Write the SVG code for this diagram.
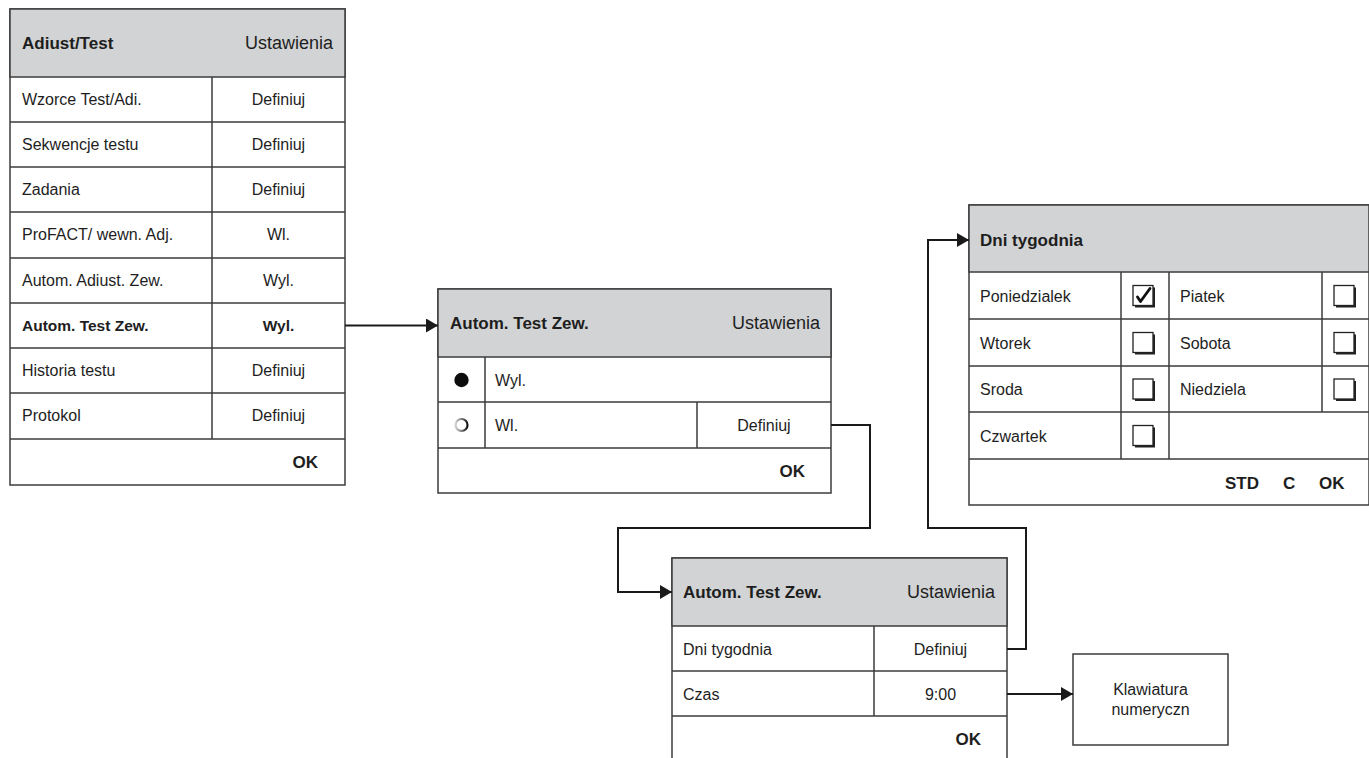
<svg xmlns="http://www.w3.org/2000/svg" xmlns:xlink="http://www.w3.org/1999/xlink" width="1369" height="758" viewBox="0 0 1369 758">
  <style>
    .frame { fill: #ffffff; stroke: #3c3c3c; stroke-width: 1.5; }
    .head { fill: #d1d3d4; stroke: #3c3c3c; stroke-width: 1.5; }
    .grid { stroke: #3c3c3c; stroke-width: 1.5; fill: none; }
    .wire { fill: none; stroke: #1a1a1a; stroke-width: 2; }
    text { font-family: "Liberation Sans", Arial, sans-serif; fill: #1e1e1e; }
    .t { font-size: 16px; }
    .hb { font-size: 17px; font-weight: bold; }
    .hn { font-size: 18px; }
    .b { font-size: 15.5px; font-weight: bold; }
    .ok { font-size: 17px; font-weight: bold; }
    .c { text-anchor: middle; }
    .r { text-anchor: end; }
  </style>
  <defs>
    <marker id="arrow" viewBox="0 0 12 14" refX="12" refY="7" markerWidth="12" markerHeight="14" markerUnits="userSpaceOnUse" orient="auto">
      <path d="M0,0 L12,7 L0,14 z" fill="#1a1a1a"/>
    </marker>
    <g id="box">
      <rect x="0" y="0" width="20" height="20" fill="#ffffff" stroke="#222" stroke-width="1.3"/>
      <path d="M2,21 H21 V2" fill="none" stroke="#222" stroke-width="2"/>
    </g>
    <linearGradient id="ring" x1="0" y1="0" x2="1" y2="0">
      <stop offset="0" stop-color="#d0d0d0"/>
      <stop offset="0.5" stop-color="#7a7a7a"/>
      <stop offset="1" stop-color="#111"/>
    </linearGradient>
    <filter id="soft" x="-30%" y="-30%" width="160%" height="160%">
      <feGaussianBlur stdDeviation="0.6"/>
    </filter>
  </defs>

  <!-- Adjust/Test settings menu -->
  <g id="panel-adjust-test">
    <rect class="frame" x="10" y="9" width="335" height="476"/>
    <rect class="head" x="10" y="9" width="335" height="68"/>
    <path class="grid" d="M10,122 H345 M10,167 H345 M10,212 H345 M10,258 H345 M10,303 H345 M10,348 H345 M10,393 H345 M10,439 H345 M212,77 V439"/>
    <text class="hb" x="22" y="49">Adiust/Test</text>
    <text class="hn r" x="333" y="49">Ustawienia</text>
    <text class="t" x="22" y="105">Wzorce Test/Adi.</text>
    <text class="t c" x="278.5" y="105">Definiuj</text>
    <text class="t" x="22" y="150">Sekwencje testu</text>
    <text class="t c" x="278.5" y="150">Definiuj</text>
    <text class="t" x="22" y="195">Zadania</text>
    <text class="t c" x="278.5" y="195">Definiuj</text>
    <text class="t" x="22" y="240">ProFACT/ wewn. Adj.</text>
    <text class="t c" x="278.5" y="240">Wl.</text>
    <text class="t" x="22" y="286">Autom. Adiust. Zew.</text>
    <text class="t c" x="278.5" y="286">Wyl.</text>
    <text class="b" x="22" y="331">Autom. Test Zew.</text>
    <text class="b c" x="278.5" y="331">Wyl.</text>
    <text class="t" x="22" y="376">Historia testu</text>
    <text class="t c" x="278.5" y="376">Definiuj</text>
    <text class="t" x="22" y="421">Protokol</text>
    <text class="t c" x="278.5" y="421">Definiuj</text>
    <text class="ok r" x="318" y="468">OK</text>
  </g>

  <!-- External auto test: on/off choice -->
  <g id="panel-auto-test">
    <rect class="frame" x="438" y="289" width="393" height="204"/>
    <rect class="head" x="438" y="289" width="393" height="68"/>
    <path class="grid" d="M438,402 H831 M438,448 H831 M485,357 V448 M697,402 V448"/>
    <text class="hb" x="450" y="329">Autom. Test Zew.</text>
    <text class="hn r" x="820" y="329">Ustawienia</text>
    <circle cx="461.5" cy="380" r="7.2" fill="#111" filter="url(#soft)"/>
    <circle cx="461.5" cy="425" r="6" fill="#ffffff" stroke="url(#ring)" stroke-width="2.2"/>
    <text class="t" x="495" y="385.5">Wyl.</text>
    <text class="t" x="495" y="431">Wl.</text>
    <text class="t c" x="764" y="431">Definiuj</text>
    <text class="ok r" x="805" y="477">OK</text>
  </g>

  <!-- Auto test schedule: weekdays and time -->
  <g id="panel-schedule">
    <rect class="frame" x="672" y="558" width="335" height="205"/>
    <rect class="head" x="672" y="558" width="335" height="68"/>
    <path class="grid" d="M672,671 H1007 M672,716 H1007 M874,626 V716"/>
    <text class="hb" x="683" y="598">Autom. Test Zew.</text>
    <text class="hn r" x="995" y="598">Ustawienia</text>
    <text class="t" x="683" y="654.5">Dni tygodnia</text>
    <text class="t c" x="940.5" y="654.5">Definiuj</text>
    <text class="t" x="683" y="699.5">Czas</text>
    <text class="t c" x="940.5" y="699.5">9:00</text>
    <text class="ok r" x="981" y="745">OK</text>
  </g>

  <!-- Weekday selection -->
  <g id="panel-weekdays">
    <rect class="frame" x="969" y="205" width="400" height="300"/>
    <rect class="head" x="969" y="205" width="400" height="67"/>
    <path class="grid" d="M969,319 H1369 M969,366 H1369 M969,412 H1369 M969,459 H1369 M1121,272 V459 M1169,272 V459 M1322,272 V412"/>
    <text class="hb" x="980" y="246">Dni tygodnia</text>
    <text class="t" x="980" y="301.5">Poniedzialek</text>
    <text class="t" x="980" y="348.5">Wtorek</text>
    <text class="t" x="980" y="395">Sroda</text>
    <text class="t" x="980" y="441.5">Czwartek</text>
    <text class="t" x="1180" y="301.5">Piatek</text>
    <text class="t" x="1180" y="348.5">Sobota</text>
    <text class="t" x="1180" y="395">Niedziela</text>
    <use xlink:href="#box" x="1133" y="285.5"/>
    <path d="M1137.5,297 L1140.5,301.5 L1150,288.5" fill="none" stroke="#111" stroke-width="2.8" stroke-linecap="round" stroke-linejoin="round"/>
    <use xlink:href="#box" x="1133" y="332.5"/>
    <use xlink:href="#box" x="1133" y="379"/>
    <use xlink:href="#box" x="1133" y="425.5"/>
    <use xlink:href="#box" x="1334" y="285.5"/>
    <use xlink:href="#box" x="1334" y="332.5"/>
    <use xlink:href="#box" x="1334" y="379"/>
    <text class="ok" x="1225" y="489">STD</text>
    <text class="ok" x="1283" y="489">C</text>
    <text class="ok" x="1319" y="489">OK</text>
  </g>

  <!-- Numeric keypad -->
  <g id="node-keypad">
    <rect class="frame" x="1073" y="654" width="155" height="91"/>
    <text class="t c" x="1150.5" y="695">Klawiatura</text>
    <text class="t c" x="1150.5" y="715">numeryczn</text>
  </g>

  <!-- Connectors -->
  <g id="connectors">
    <path class="wire" d="M345,325.5 H438" marker-end="url(#arrow)"/>
    <path class="wire" d="M831,425 H870 V528 H618 V592 H672" marker-end="url(#arrow)"/>
    <path class="wire" d="M1007,649 H1026 V528 H928 V240 H969" marker-end="url(#arrow)"/>
    <path class="wire" d="M1007,694 H1073" marker-end="url(#arrow)"/>
  </g>
</svg>
